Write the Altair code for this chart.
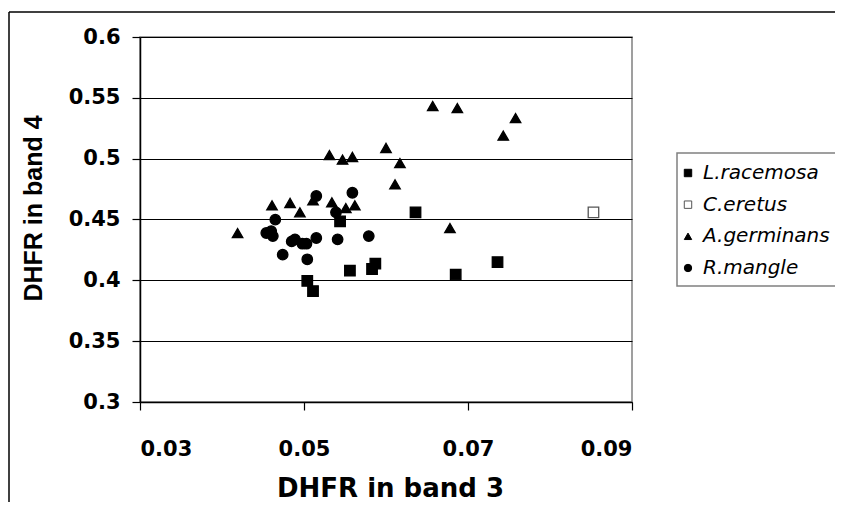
import altair as alt
import pandas as pd

species_order = ["L.racemosa", "C.eretus", "A.germinans", "R.mangle"]

lr_x = [0.0544, 0.0636, 0.0556, 0.0583, 0.0587, 0.0504, 0.0511, 0.0685, 0.0736]
lr_y = [0.4485, 0.4559, 0.4079, 0.4093, 0.4137, 0.3995, 0.3912, 0.4047, 0.4150]

ce_x = [0.0853]
ce_y = [0.4559]

ag_x = [0.0419, 0.0461, 0.0483, 0.0495, 0.0511, 0.0531, 0.0547, 0.0559, 0.0534, 0.0551,
        0.0562, 0.0600, 0.0617, 0.0611, 0.0657, 0.0687, 0.0758, 0.0743, 0.0678]
ag_y = [0.4389, 0.4616, 0.4636, 0.4559, 0.4657, 0.5030, 0.4992, 0.5014, 0.4641, 0.4594,
        0.4616, 0.5088, 0.4964, 0.4789, 0.5433, 0.5416, 0.5334, 0.5189, 0.4430]

rm_x = [0.0515, 0.0559, 0.0465, 0.0454, 0.0460, 0.0462, 0.0485, 0.0489, 0.0498, 0.0503,
        0.0515, 0.0541, 0.0579, 0.0474, 0.0504, 0.0539]
rm_y = [0.4693, 0.4720, 0.4499, 0.4389, 0.4405, 0.4364, 0.4320, 0.4337, 0.4301, 0.4301,
        0.4348, 0.4337, 0.4364, 0.4211, 0.4173, 0.4559]

x_ticks = [0.03, 0.05, 0.07, 0.09]
y_ticks = [0.3, 0.35, 0.4, 0.45, 0.5, 0.55, 0.6]

rows = []
for name, xs, ys in [("L.racemosa", lr_x, lr_y), ("C.eretus", ce_x, ce_y),
                     ("A.germinans", ag_x, ag_y), ("R.mangle", rm_x, rm_y)]:
    for a, b in zip(xs, ys):
        rows.append({"species": name, "x": a, "y": b, "order": len(rows)})
df = pd.DataFrame(rows)
leg_df = pd.DataFrame({"species": species_order})

WIDE = "DejaVu Sans"
ARIAL = "Liberation Sans"

shape_scale = alt.Scale(domain=species_order, range=["square", "square", "triangle-up", "circle"])
fill_scale = alt.Scale(domain=species_order, range=["black", "white", "black", "black"])
stroke_scale = alt.Scale(domain=species_order, range=["black", "#555555", "black", "black"])

points = alt.Chart(df).mark_point(filled=True, opacity=1, strokeWidth=1.3).encode(
    x=alt.X("x:Q", scale=alt.Scale(domain=[0.03, 0.09], nice=False, zero=False),
            axis=alt.Axis(values=x_ticks, format="~g", title="DHFR in band 3", grid=False,
                          labelPadding=28, titleFont=WIDE, titleFontSize=26,
                          titleX=250, titleY=86, titleAlign="center",
                          titleBaseline="middle", titleAnchor="middle")),
    y=alt.Y("y:Q", scale=alt.Scale(domain=[0.3, 0.6], nice=False, zero=False),
            axis=alt.Axis(values=y_ticks, format="~g", title="DHFR in band 4", grid=True,
                          labelPadding=12, titleFont=ARIAL, titleFontSize=25,
                          titleX=-107, titleY=171, titleAngle=270, titleAlign="center",
                          titleBaseline="middle")),
    shape=alt.Shape("species:N", scale=shape_scale, legend=None),
    fill=alt.Fill("species:N", scale=fill_scale, legend=None),
    stroke=alt.Stroke("species:N", scale=stroke_scale, legend=None),
    size=alt.Size("species:N", scale=alt.Scale(domain=species_order,
                  range=[110, 110, 170, 125]), legend=None),
    order=alt.Order("order:Q"),
)

leg_y = alt.Y("species:N", scale=alt.Scale(type="point", domain=species_order,
              range=[136, 231], padding=0), axis=None)

legend_box = alt.Chart(pd.DataFrame([{"k": 1}])).mark_rect(
    fill="white", stroke="#808080", strokeWidth=1.5).encode(
    x=alt.value(537), x2=alt.value(740), y=alt.value(116), y2=alt.value(249))

legend_symbols = alt.Chart(leg_df).mark_point(filled=True, opacity=1, strokeWidth=1).encode(
    x=alt.value(548),
    y=leg_y,
    shape=alt.Shape("species:N", scale=shape_scale, legend=None),
    fill=alt.Fill("species:N", scale=fill_scale, legend=None),
    stroke=alt.Stroke("species:N", scale=stroke_scale, legend=None),
    size=alt.value(55),
)

legend_text = alt.Chart(leg_df).mark_text(
    align="left", baseline="middle", font=WIDE, fontSize=20, fontStyle="italic",
    color="black").encode(
    x=alt.value(563),
    y=leg_y,
    text="species:N",
)

frame_df = pd.DataFrame([{"k": 1}])
frame_left = alt.Chart(frame_df).mark_rule(color="black", strokeWidth=1.5).encode(
    x=alt.value(-131), y=alt.value(-25), y2=alt.value(480))
frame_top = alt.Chart(frame_df).mark_rule(color="black", strokeWidth=1.5).encode(
    x=alt.value(-131), x2=alt.value(740), y=alt.value(-25))

chart = alt.layer(
    frame_left, frame_top, points, legend_box, legend_symbols, legend_text
).resolve_scale(y="independent").properties(
    width=492, height=365,
    background="white",
    autosize=alt.AutoSizeParams(type="none"),
    padding={"left": 132, "top": 29, "right": 203, "bottom": 100},
).configure_view(
    stroke="#808080", strokeWidth=1.5
).configure_axis(
    labelFont=WIDE, labelFontSize=21,
    labelFontWeight="bold", titleFontWeight="bold", labelColor="black", titleColor="black",
    domainColor="black", domainWidth=1.5, tickColor="black", tickSize=8, tickWidth=1.2,
    gridColor="black", gridWidth=1, gridOpacity=1,
)

chart.save("out.html", embed_options={"renderer": "svg", "actions": False})
